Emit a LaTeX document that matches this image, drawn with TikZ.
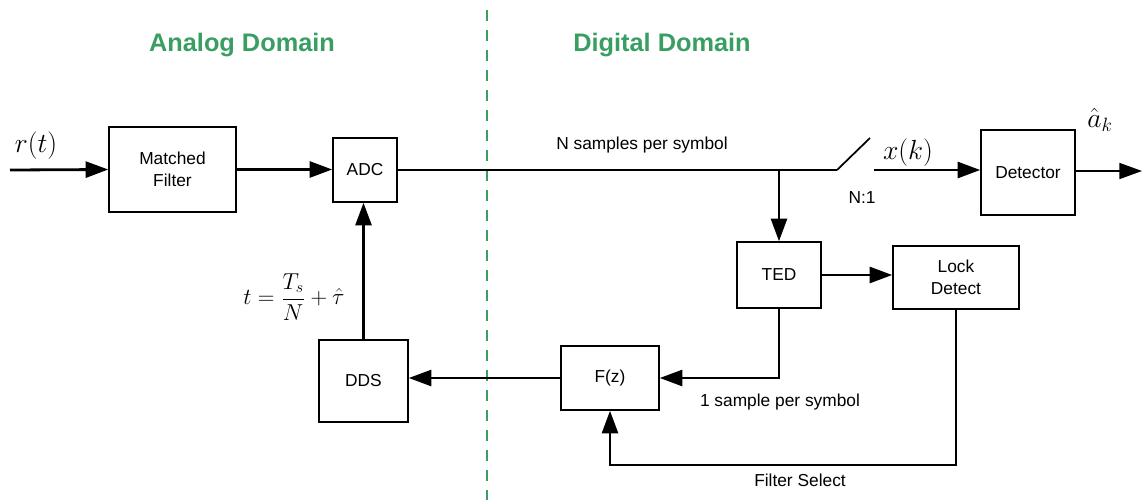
\documentclass[tikz,border=0pt]{standalone}
\usepackage{fontspec}
\setmainfont{Liberation Sans}
\usetikzlibrary{arrows.meta}
\definecolor{domgreen}{RGB}{56,158,98}
\begin{document}
\begin{tikzpicture}[x=0.75pt,y=-0.75pt,
  blk/.style={draw,line width=1.1pt,inner sep=0pt,align=center,font=\fontsize{13}{16.5}\selectfont},
  conn/.style={line width=2.1pt},
  arr/.style={conn,-{Triangle[length=17pt,width=12pt]}},
  thinarr/.style={line width=1.3pt,-{Triangle[length=17pt,width=12pt]}},
  lbl/.style={font=\fontsize{13}{16}\selectfont},
  mlbl/.style={font=\fontsize{21}{24}\selectfont},
  dom/.style={font=\bfseries\fontsize{19}{22}\selectfont,text=domgreen}
  ]
\useasboundingbox (0,0) rectangle (1142,500);
\draw[domgreen,line width=1pt,dash pattern=on 8pt off 7pt] (487,10) -- (487,500);
\node[dom] (analog) at (242,45) {Analog Domain};
\node[dom] (digital) at (662,45) {Digital Domain};

\node[blk,minimum width=95.25pt,minimum height=63.75pt] (mf) at (172.5,169.5) {Matched\\Filter};
\node[blk,minimum width=48pt,minimum height=48pt] (adc) at (365,170) {ADC};
\node[blk,minimum width=70.5pt,minimum height=63.75pt] (det) at (1028,172.5) {Detector};
\node[blk,minimum width=63pt,minimum height=49.5pt] (ted) at (779,275) {TED};
\node[blk,minimum width=94.5pt,minimum height=47.25pt] (lock) at (956,277.5) {Lock\\Detect};
\node[blk,minimum width=73.5pt,minimum height=48pt] (fz) at (610,378) {F(z)};
\node[blk,minimum width=66.75pt,minimum height=61.5pt] (dds) at (363.5,381) {DDS};

\coordinate (in) at (10,170);
\coordinate (out) at (1142,171);
\coordinate (sw1) at (837,170);
\coordinate (sw2) at (870,138);
\coordinate (sw3) at (874,170);
\coordinate (tap) at (779,170);
\coordinate (fs) at (956,465);

\draw[arr] (in) -- (mf.west);
\draw[arr] (mf.east) -- (mf.east -| adc.west);
\draw[conn] (adc.east) -- (sw1);
\draw[line width=1.3pt] (sw1) -- (sw2);
\draw[arr] (sw3) -- (sw3 -| det.west);
\draw[thinarr] (det.east |- out) -- (out);
\draw[arr] (tap) -- (ted.north);
\draw[arr] (ted.east) -- (ted.east -| lock.west);
\draw[arr] (ted.south) |- (fz.east);
\draw[arr] (lock.south) -- (lock.south |- fs) -| (fz.south);
\draw[arr] (fz.west) -- (fz.west -| dds.east);
\draw[arr] (dds.north) -- (dds.north |- adc.south);

\node[mlbl] (rt) at (36,146) {$r(t)$};
\node[mlbl] (xk) at (908,153) {$x(k)$};
\node[mlbl] (ak) at (1100,120) {$\hat{a}_k$};
\node[font=\fontsize{17}{20}\selectfont,inner sep=0pt] (eq) at (294,297) {$t=\displaystyle\frac{T_s}{N}+\hat{\tau}$};
\node[lbl] (nsps) at (642,145) {N samples per symbol};
\node[lbl] (n1) at (862,198) {N:1};
\node[lbl] (osps) at (780,402) {1 sample per symbol};
\node[lbl] (fsel) at (800,480) {Filter Select};
\end{tikzpicture}
\end{document}
